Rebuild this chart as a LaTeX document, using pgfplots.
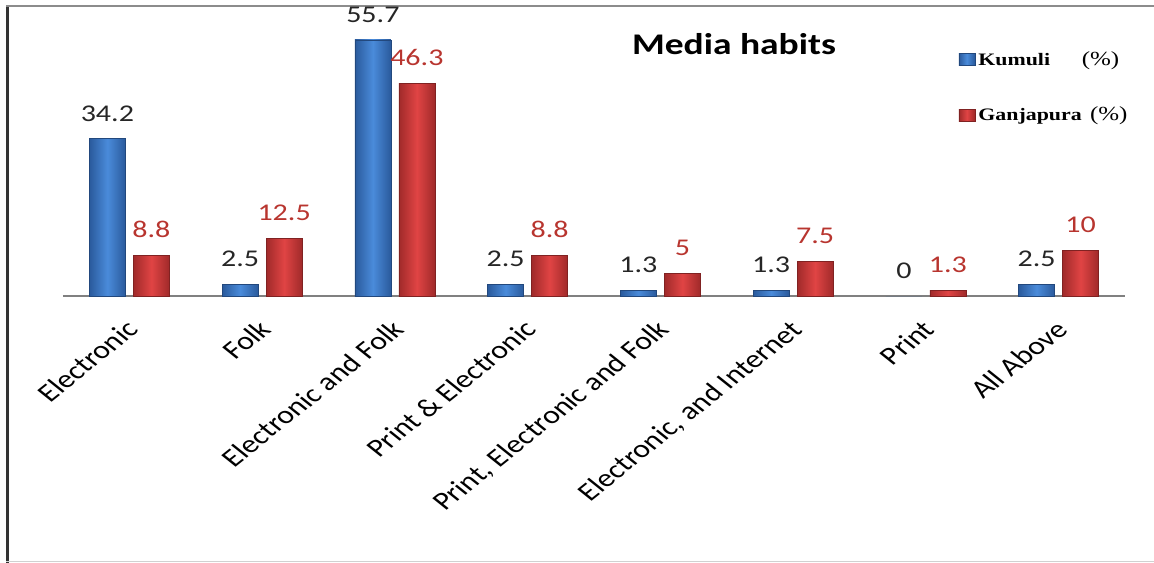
\documentclass[border=0pt]{standalone}
\usepackage{pgfplots}
\usepackage{pgfplotstable}
\pgfplotsset{compat=1.18}
\usepackage{fontspec}
\setmainfont{Carlito}
\newfontfamily\wcal{Carlito}[FakeStretch=1.25]
\newfontfamily\wser{Liberation Serif}[FakeStretch=1.25]

\definecolor{kblueE}{HTML}{2A5A9C}
\definecolor{kblueM}{HTML}{4A8BDA}
\definecolor{gredE}{HTML}{A02A2A}
\definecolor{gredM}{HTML}{E04444}
\definecolor{gredT}{HTML}{B8352F}

% media habits, share of respondents (%)
\pgfplotstableread{
x  kumuli  ganjapura
0  34.2    8.8
1  2.5     12.5
2  55.7    46.3
3  2.5     8.8
4  1.3     5
5  1.3     7.5
6  0       1.3
7  2.5     10
}\mediatable

\pgfplotsset{
  kbar/.style={draw=kblueE!80!black, line width=0.3pt,
    left color=kblueE, right color=kblueE, middle color=kblueM},
  gbar/.style={draw=gredE!80!black, line width=0.3pt,
    left color=gredE, right color=gredE, middle color=gredM},
}

\begin{document}
\begin{tikzpicture}[x=0.6pt,y=0.6pt]
% page area and frame
\path[use as bounding box] (0,0) rectangle (1154,563);
\draw[line width=1.8pt, color=black!80] (7.5,0) -- (7.5,558);
\draw[line width=1.2pt, color=black!45] (6,557) -- (1154,557);
\draw[line width=0.9pt, color=black!18] (6,1.5) -- (1154,1.5);

\begin{axis}[
  at={(37.8pt,160.2pt)}, anchor=south west,
  scale only axis,
  width=637.2pt, height=165.6pt,
  xmin=-0.5, xmax=7.5, ymin=0, ymax=60,
  clip=false,
  ybar, bar width=21.6pt,
  axis x line*=bottom, axis y line=none,
  x axis line style={-, draw=black!50, line width=0.7pt},
  xtick={0,...,7},
  xticklabels={Electronic, Folk, Electronic and Folk, Print \& Electronic,
    {Print, Electronic and Folk}, {Electronic, and Internet}, Print, All Above},
  major tick length=0pt,
  xticklabel style={font=\fontsize{15.2}{18}\selectfont, xshift=-3pt, yshift=-12pt,
    xscale=1.25, rotate=45, anchor=north east, inner sep=1pt},
  /pgf/number format/assume math mode=true,
  every node near coord/.append style={font=\wcal\fontsize{14.4}{16}\selectfont,
    anchor=south, yshift=7pt},
  legend cell align=left,
  legend style={at={(0.843,0.90)}, anchor=north west, draw=none, fill=none,
    row sep=19.5pt, inner sep=0pt,
    /tikz/every even column/.append style={column sep=2pt}},
  legend image code/.code={\draw[#1, line width=0.3pt] (0pt,-3.6pt) rectangle (9.6pt,3.6pt);},
]
% Kumuli bars, one path per bar so each carries its own shading
\pgfplotsinvokeforeach{0,1,2,3,4,5,7}{
  \addplot[kbar, forget plot, bar shift=-13.2pt, nodes near coords,
    every node near coord/.append style={text=black!85},
    restrict x to domain=#1:#1]
    table[x=x, y=kumuli] {\mediatable};
}
\addplot[fill=kblueE, draw=none, forget plot, bar shift=-13.2pt, nodes near coords,
  every node near coord/.append style={text=black!85},
  restrict x to domain=6:6]
  table[x=x, y=kumuli] {\mediatable};
% Ganjapura bars
\pgfplotsinvokeforeach{0,...,7}{
  \addplot[gbar, forget plot, bar shift=13.2pt, nodes near coords,
    every node near coord/.append style={text=gredT},
    restrict x to domain=#1:#1]
    table[x=x, y=ganjapura] {\mediatable};
}
\addlegendimage{kbar}
\addlegendentry{\wser\makebox[62pt][l]{\fontsize{10.5}{12}\selectfont\bfseries Kumuli}\fontsize{12}{14}\selectfont(\%)}
\addlegendimage{gbar}
\addlegendentry{\wser\makebox[67pt][l]{\fontsize{10.5}{12}\selectfont\bfseries Ganjapura}\fontsize{12}{14}\selectfont(\%)}
\end{axis}

\node[anchor=base, font=\wcal\bfseries\fontsize{18}{20}\selectfont] at (734,508) {Media habits};
\end{tikzpicture}
\end{document}
